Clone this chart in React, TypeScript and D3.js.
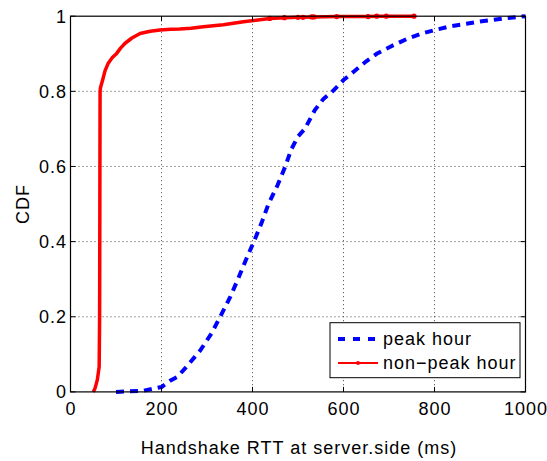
import React from "react";
import * as d3 from "d3";

const xTicks = [0, 200, 400, 600, 800, 1000];
const yTicks = [0, 0.2, 0.4, 0.6, 0.8, 1];
const yTickLabels = ["0", "0.2", "0.4", "0.6", "0.8", "1"];

const peakX = [100, 160, 200, 219, 235, 255, 285, 310, 329, 350, 368, 385, 403, 420, 435, 455, 472, 485, 500, 515, 537, 556, 576, 600, 625, 650, 673, 705, 740, 770, 800, 835, 870, 900, 928, 960, 1000];
const peakY = [0, 0.003, 0.013, 0.03, 0.04, 0.067, 0.11, 0.156, 0.2, 0.25, 0.3, 0.35, 0.4, 0.45, 0.5, 0.55, 0.6, 0.645, 0.68, 0.7, 0.75, 0.78, 0.8, 0.83, 0.855, 0.88, 0.9, 0.92, 0.94, 0.953, 0.963, 0.973, 0.98, 0.986, 0.99, 0.995, 1.0];

const nonPeakX = [50, 54, 59, 63, 64, 64.5, 65, 66, 70.6, 76, 83, 92, 101.5, 110, 120, 135, 153, 175, 197, 220, 240, 265, 292, 336, 380, 438, 470, 500, 511, 530, 535, 585, 654, 673, 694, 755];
const nonPeakY = [0, 0.01, 0.032, 0.067, 0.2, 0.5, 0.8, 0.81, 0.83, 0.855, 0.875, 0.89, 0.901, 0.915, 0.928, 0.942, 0.954, 0.96, 0.963, 0.965, 0.966, 0.968, 0.972, 0.977, 0.985, 0.994, 0.996, 0.997, 0.997, 0.998, 0.998, 0.999, 0.999, 1, 1, 1];

const seriesNames = ["peak hour", "non\u2212peak hour"];

const W = 547, H = 461;
const L = 70.5, R = 525.5, T = 16.2, B = 391.9;
const FONT = "Liberation Sans, Arial, Helvetica, sans-serif";
const FS = 18;
const LS = 1;

export default function App() {
  const x = d3.scaleLinear().domain([0, 1000]).range([L, R]);
  const y = d3.scaleLinear().domain([0, 1]).range([B, T]);
  const line = d3.line<[number, number]>().x(d => x(d[0])).y(d => y(d[1]));
  const peak: [number, number][] = peakX.map((v, i) => [v, peakY[i]]);
  const non: [number, number][] = nonPeakX.map((v, i) => [v, nonPeakY[i]]);
  const tick = 5;

  return (
    <svg width={W} height={H} style={{ position: "absolute", left: 0, top: 0, background: "#fff" }} fontFamily={FONT}>
      <rect x={0} y={0} width={W} height={H} fill="#fff" />
      {/* grid */}
      {xTicks.slice(1, -1).map(t => (
        <line key={"gx" + t} x1={x(t)} x2={x(t)} y1={T} y2={B} stroke="#444" strokeWidth={1} strokeDasharray="1,3" />
      ))}
      {yTicks.slice(1, -1).map(t => (
        <line key={"gy" + t} x1={L} x2={R} y1={y(t)} y2={y(t)} stroke="#444" strokeWidth={1} strokeDasharray="1,3" />
      ))}
      {/* curves */}
      <path d={line(peak) || ""} fill="none" stroke="#0000ff" strokeWidth={4} strokeDasharray="8,6" />
      <path d={line(non) || ""} fill="none" stroke="#ff0000" strokeWidth={3.5} strokeLinejoin="round" />
      {non.filter(d => d[0] > 400).map((d, i) => (
        <circle key={"m" + i} cx={x(d[0])} cy={y(d[1])} r={2.6} fill="#ff0000" />
      ))}
      {/* axes box */}
      <rect x={L} y={T} width={R - L} height={B - T} fill="none" stroke="#000" strokeWidth={1.2} />
      {xTicks.map(t => (
        <g key={"tx" + t}>
          <line x1={x(t)} x2={x(t)} y1={B} y2={B - tick} stroke="#000" />
          <line x1={x(t)} x2={x(t)} y1={T} y2={T + tick} stroke="#000" />
          <text x={x(t) + LS / 2} y={415} textAnchor="middle" fontSize={FS} letterSpacing={LS} fill="#000">{t}</text>
        </g>
      ))}
      {yTicks.map((t, i) => (
        <g key={"ty" + t}>
          <line x1={L} x2={L + tick} y1={y(t)} y2={y(t)} stroke="#000" />
          <line x1={R} x2={R - tick} y1={y(t)} y2={y(t)} stroke="#000" />
          <text x={67} y={y(t)} dy="0.36em" textAnchor="end" fontSize={FS} letterSpacing={LS} fill="#000">{yTickLabels[i]}</text>
        </g>
      ))}
      <text x={299} y={454} textAnchor="middle" fontSize={FS} letterSpacing={LS} fill="#000">Handshake RTT at server.side (ms)</text>
      <text transform={`translate(29,204) rotate(-90)`} textAnchor="middle" fontSize={FS} letterSpacing={LS} fill="#000">CDF</text>
      {/* legend */}
      <rect x={330} y={322.7} width={190} height={55} fill="#fff" stroke="#000" strokeWidth={1} />
      <line x1={338} x2={378} y1={339} y2={339} stroke="#0000ff" strokeWidth={4} strokeDasharray="7,8" />
      <text x={383} y={339} dy="0.36em" fontSize={FS} letterSpacing={LS} fill="#000">{seriesNames[0]}</text>
      <line x1={338} x2={378} y1={363} y2={363} stroke="#ff0000" strokeWidth={2} />
      <circle cx={358} cy={363} r={2} fill="#ff0000" />
      <text x={383} y={363} dy="0.36em" fontSize={FS} letterSpacing={LS} fill="#000">{seriesNames[1]}</text>
    </svg>
  );
}
